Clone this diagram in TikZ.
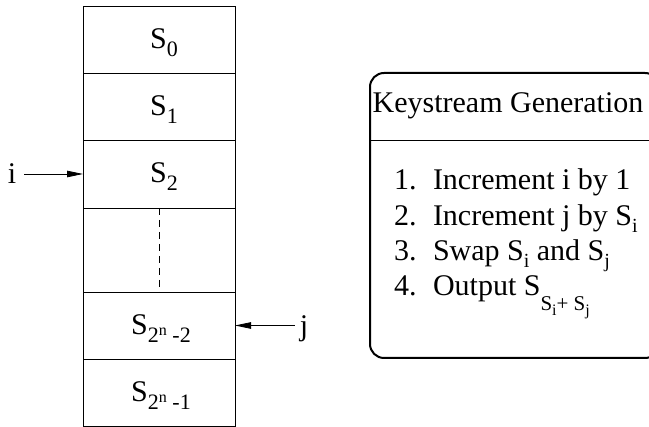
\documentclass[tikz,border=0pt]{standalone}
\usepackage{fontspec}
\setmainfont{Liberation Serif}
\usetikzlibrary{arrows.meta}

% lowered / raised pieces of text for indices
\newcommand\idx[1]{\raisebox{-8pt}{\fontsize{22}{22}\selectfont #1}}
\newcommand\idxs[1]{\raisebox{-7pt}{\fontsize{20}{20}\selectfont #1}}
\newcommand\idxt[1]{\raisebox{-5pt}{\fontsize{16}{16}\selectfont #1}}
\newcommand\expo[1]{\raisebox{7pt}{\fontsize{16}{16}\selectfont #1}}

\tikzset{
  cell/.style={draw, line width=0.8pt, minimum width=152pt, inner sep=0pt, outer sep=0pt},
  lbl/.style={inner sep=0pt, outer sep=0pt, font=\fontsize{30}{36}\selectfont, anchor=base},
  item/.style={lbl, anchor=base west},
  ptr/.style={line width=0.8pt, -{Triangle[length=16pt, width=6.5pt]}},
  panel/.style={draw, line width=2pt, rounded corners=14pt, minimum width=289pt,
                minimum height=285pt, inner sep=0pt, outer sep=0pt},
}

\begin{document}
\begin{tikzpicture}[x=1pt, y=-1pt]
\useasboundingbox (0,0) rectangle (649,427);
\clip (0,0) rectangle (649,427);

% state array cells
\node[cell, minimum height=67pt] (c0) at (159,39.5)  {};
\node[cell, minimum height=67pt] (c1) at (159,106.5) {};
\node[cell, minimum height=68pt] (c2) at (159,174)   {};
\node[cell, minimum height=84pt] (c3) at (159,250)   {};
\node[cell, minimum height=67pt] (c4) at (159,325.5) {};
\node[cell, minimum height=67pt] (c5) at (159,392.5) {};

\node[lbl] (s0) at (164,49)  {S\idx{0}};
\node[lbl] (s1) at (164,116) {S\idx{1}};
\node[lbl] (s2) at (164,183) {S\idx{2}};
\node[lbl] (s4) at (161,335) {S\idx{2\expo{n} -2}};
\node[lbl] (s5) at (161,402) {S\idx{2\expo{n} -1}};

% elided cells
\draw[line width=0.8pt, dash pattern=on 7pt off 5pt] (c3.north) -- (c3.south);

% index pointers
\node[lbl] (ilab) at (12,184) {i};
\node[lbl] (jlab) at (304,336) {j};
\draw[ptr, shorten <=8pt] (c2.west -| ilab.east) -- (c2.west);
\draw[ptr, shorten <=5pt] (c4.east -| jlab.west) -- (c4.east);

% keystream generation panel
\node[panel] (kg) at (514.5,215.5) {};
\coordinate (sep) at (370,140);
\draw[line width=0.8pt] (sep) -- (sep -| kg.east);
\node[lbl] (title) at (508,113) {Keystream Generation};

\node[item] (n1) at (394,190) {1.};
\node[item] (n2) at (394,226) {2.};
\node[item] (n3) at (394,261) {3.};
\node[item] (n4) at (394,296) {4.};
\node[item] (t1) at (433,190) {Increment i by 1};
\node[item] (t2) at (433,226) {Increment j by S\idxs{i}};
\node[item] (t3) at (433,261) {Swap S\idxs{i} and S\idxs{j}};
\node[item] (t4) at (433,296) {Output S\raisebox{-15pt}{\fontsize{21}{21}\selectfont S\idxt{i}+ S\idxt{j}}};
\end{tikzpicture}
\end{document}
